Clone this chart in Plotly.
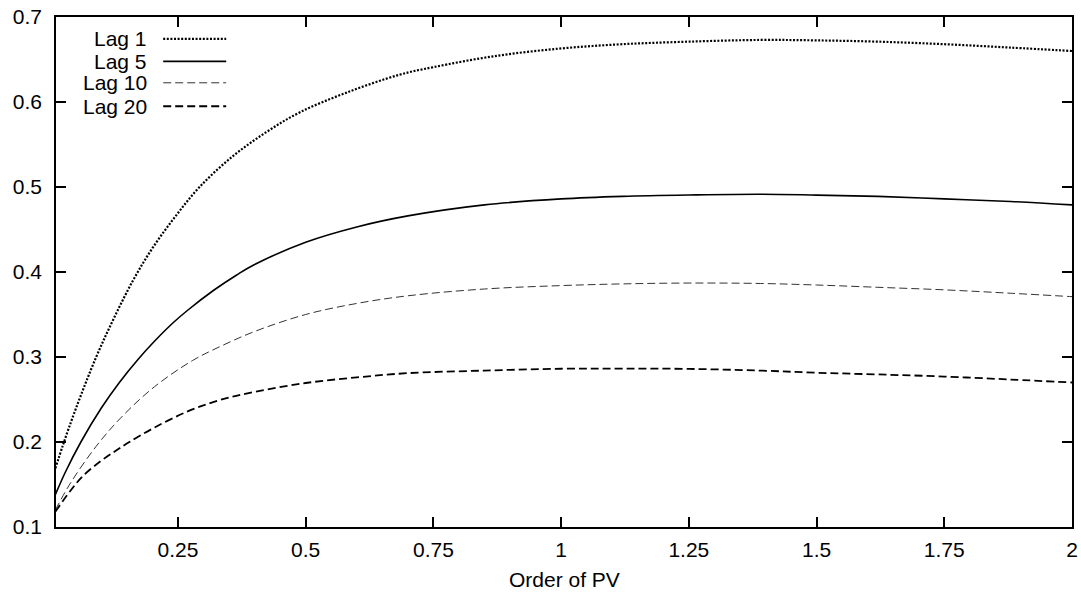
import plotly.graph_objects as go

# ---- data ----
lag1_x = [0.01, 0.025, 0.05, 0.09, 0.125, 0.162, 0.2, 0.2445, 0.2923, 0.357, 0.424, 0.489, 0.58, 0.683, 0.75, 0.87, 1.0, 1.12, 1.25, 1.39, 1.5, 1.62, 1.75, 1.88, 2.0]
lag1_y = [0.169, 0.1965, 0.239, 0.3, 0.346, 0.39, 0.428, 0.465, 0.5, 0.536, 0.565, 0.588, 0.611, 0.632, 0.641, 0.654, 0.663, 0.668, 0.671, 0.673, 0.6725, 0.671, 0.668, 0.664, 0.66]

lag5_x = [0.01, 0.03, 0.06, 0.1, 0.135, 0.173, 0.204, 0.24, 0.269, 0.32, 0.365, 0.4, 0.5, 0.6, 0.7, 0.85, 1.0, 1.12, 1.25, 1.39, 1.5, 1.62, 1.75, 1.88, 2.0]
lag5_y = [0.138, 0.165, 0.2, 0.24, 0.2698, 0.298, 0.3185, 0.34, 0.355, 0.3785, 0.3965, 0.4088, 0.435, 0.453, 0.466, 0.479, 0.486, 0.489, 0.4906, 0.4915, 0.4905, 0.489, 0.486, 0.483, 0.479]

lag10_x = [0.01, 0.04, 0.09, 0.139, 0.204, 0.279, 0.335, 0.4, 0.5, 0.6, 0.7, 0.85, 1.0, 1.12, 1.25, 1.39, 1.5, 1.62, 1.75, 1.88, 2.0]
lag10_y = [0.12, 0.152, 0.195, 0.229, 0.265, 0.296, 0.313, 0.33, 0.35, 0.363, 0.372, 0.38, 0.384, 0.386, 0.387, 0.3865, 0.3847, 0.382, 0.379, 0.375, 0.371]

lag20_x = [0.01, 0.04, 0.064, 0.1, 0.129, 0.155, 0.204, 0.269, 0.33, 0.4, 0.5, 0.6, 0.7, 0.85, 1.0, 1.12, 1.25, 1.39, 1.5, 1.62, 1.75, 1.88, 2.0]
lag20_y = [0.118, 0.143, 0.16, 0.178, 0.19, 0.2, 0.217, 0.236, 0.249, 0.259, 0.2694, 0.276, 0.281, 0.284, 0.2862, 0.2864, 0.286, 0.284, 0.2815, 0.2795, 0.277, 0.2735, 0.27]

series_names = ["Lag 1", "Lag 5", "Lag 10", "Lag 20"]

x_tickvals = [0.25, 0.5, 0.75, 1.0, 1.25, 1.5, 1.75, 2.0]
x_ticktext = ["0.25", "0.5", "0.75", "1", "1.25", "1.5", "1.75", "2"]
y_tickvals = [0.1, 0.2, 0.3, 0.4, 0.5, 0.6, 0.7]
y_ticktext = ["0.1", "0.2", "0.3", "0.4", "0.5", "0.6", "0.7"]

x_title = "Order of PV"

# ---- styles ----
FONT = "Liberation Sans, Arial, Helvetica, sans-serif"
FS = 21
styles = [
    dict(color="black", width=2.2, dash="2px,1.6px"),
    dict(color="black", width=1.6, dash="solid"),
    dict(color="#333333", width=1.0, dash="8px,4px"),
    dict(color="black", width=1.8, dash="8px,4px"),
]

fig = go.Figure()
for name, xs, ys, st in zip(series_names,
                            [lag1_x, lag5_x, lag10_x, lag20_x],
                            [lag1_y, lag5_y, lag10_y, lag20_y],
                            styles):
    fig.add_trace(go.Scatter(x=xs, y=ys, mode="lines", name=name,
                             line=dict(shape="spline", smoothing=1.0, **st),
                             showlegend=False))

# gnuplot-style key: text right-aligned, sample line to its right
key_text_x = 0.0918
key_line_x0, key_line_x1 = 0.1055, 0.1675
key_rows_y = [0.957, 0.913, 0.871, 0.825]
for name, st, ky in zip(series_names, styles, key_rows_y):
    fig.add_annotation(x=key_text_x, y=ky, xref="paper", yref="paper",
                       text=name, showarrow=False, xanchor="right", yanchor="middle",
                       font=dict(family=FONT, size=FS, color="black"))
    fig.add_shape(type="line", xref="paper", yref="paper",
                  x0=key_line_x0, x1=key_line_x1, y0=ky, y1=ky,
                  line=dict(color=st["color"], width=st["width"], dash=st["dash"]))

# x-axis title placed as paper-anchored text
fig.add_annotation(x=0.5, y=-0.103, xref="paper", yref="paper", text=x_title,
                   showarrow=False, xanchor="center", yanchor="middle",
                   font=dict(family=FONT, size=FS, color="black"))

axis_common = dict(showline=True, linecolor="black", linewidth=1.6, mirror="allticks",
                   ticks="inside", ticklen=10, tickwidth=1.5, tickcolor="black",
                   showgrid=False, zeroline=False, automargin=False,
                   ticklabeloverflow="allow",
                   tickfont=dict(family=FONT, size=FS, color="black"))

fig.update_layout(
    width=1081, height=598,
    margin=dict(l=56, r=9, t=17, b=71, autoexpand=False),
    paper_bgcolor="white", plot_bgcolor="white",
    font=dict(family=FONT, size=FS, color="black"),
    xaxis=dict(range=[0.0113, 2.0], tickvals=x_tickvals, ticktext=x_ticktext,
               ticklabelstandoff=3, **axis_common),
    yaxis=dict(range=[0.1, 0.7], tickvals=y_tickvals, ticktext=y_ticktext,
               ticklabelstandoff=8, **axis_common),
)

# remove the default 8px page margin so the figure fills the window exactly
fig.write_html("out.html",
               config={"displayModeBar": False},
               post_script="document.body.style.margin='0';document.body.style.overflow='hidden';")
